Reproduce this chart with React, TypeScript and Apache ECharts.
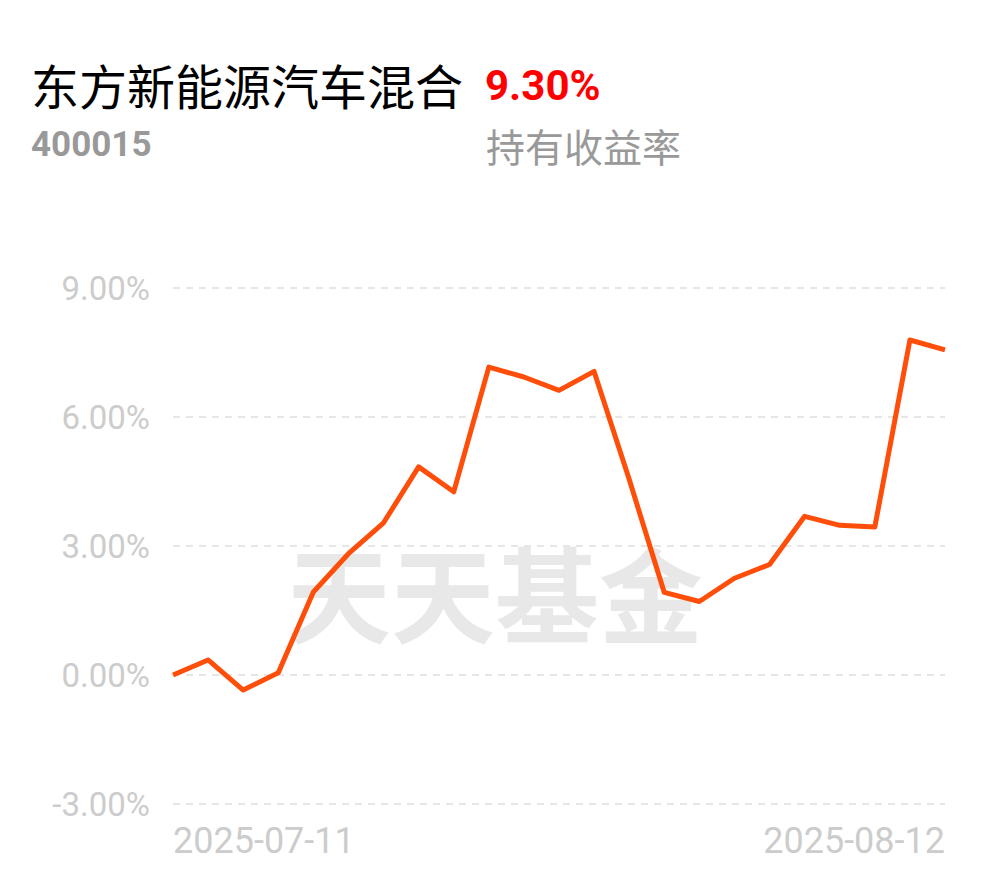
import React, { useEffect, useRef } from "react";
import * as echarts from "echarts";

const fundName = "东方新能源汽车混合";
const fundCode = "400015";
const holdingReturn = "9.30%";
const holdingLabel = "持有收益率";
const watermark = "天天基金";

const dates = [
  "2025-07-11", "2025-07-14", "2025-07-15", "2025-07-16", "2025-07-17", "2025-07-18",
  "2025-07-21", "2025-07-22", "2025-07-23", "2025-07-24", "2025-07-25",
  "2025-07-28", "2025-07-29", "2025-07-30", "2025-07-31", "2025-08-01",
  "2025-08-04", "2025-08-05", "2025-08-06", "2025-08-07", "2025-08-08",
  "2025-08-11", "2025-08-12",
];
const returns = [
  0, 0.35, -0.35, 0.05, 1.93, 2.82, 3.54, 4.84, 4.26, 7.16, 6.93,
  6.62, 7.06, 4.55, 1.92, 1.71, 2.25, 2.57, 3.69, 3.48, 3.44, 7.79, 7.56,
];
const yMin = -3;
const yMax = 9;
const yStep = 3;

export default function App() {
  const ref = useRef<HTMLDivElement>(null);
  useEffect(() => {
    document.body.style.margin = "0";
    if (!ref.current) return;
    const chart = echarts.init(ref.current, undefined, { renderer: "svg" });
    const last = dates.length - 1;
    chart.setOption({
      animation: false,
      backgroundColor: "#ffffff",
      grid: { left: 173, right: 45, top: 288, bottom: 74, containLabel: false },
      graphic: [
        {
          type: "text", x: 31, y: 84, z: 10,
          style: {
            text: fundName, fill: "#000000", fontSize: 48,
            fontFamily: "Noto Sans CJK SC", verticalAlign: "middle", align: "left",
          },
        },
        {
          type: "text", x: 485, y: 85, z: 10,
          style: {
            text: holdingReturn, fill: "#ff0000", fontSize: 42, fontWeight: "bold",
            fontFamily: "Roboto", verticalAlign: "middle", align: "left",
          },
        },
        {
          type: "text", x: 31, y: 144, z: 10,
          style: {
            text: fundCode, fill: "#999999", fontSize: 35, fontWeight: "bold",
            fontFamily: "Roboto", verticalAlign: "middle", align: "left",
          },
        },
        {
          type: "text", x: 486, y: 145, z: 10,
          style: {
            text: holdingLabel, fill: "#999999", fontSize: 39,
            fontFamily: "Noto Sans CJK SC", verticalAlign: "middle", align: "left",
          },
        },
        {
          type: "text", x: 495, y: 590, z: -1,
          style: {
            text: watermark, fill: "#e8e8e8", fontSize: 104, fontWeight: "bold",
            fontFamily: "Noto Sans CJK SC", verticalAlign: "middle", align: "center",
          },
        },
      ],
      xAxis: {
        type: "category",
        data: dates,
        boundaryGap: false,
        axisLine: { show: false },
        axisTick: { show: false },
        splitLine: { show: false },
        axisLabel: {
          interval: (i: number) => i === 0 || i === last,
          showMinLabel: true,
          showMaxLabel: true,
          alignMinLabel: "left",
          alignMaxLabel: "right",
          color: "#cccccc",
          fontSize: 36,
          fontFamily: "Roboto",
          margin: 19,
        },
      },
      yAxis: {
        type: "value",
        min: yMin,
        max: yMax,
        interval: yStep,
        axisLine: { show: false },
        axisTick: { show: false },
        axisLabel: {
          formatter: (v: number) => v.toFixed(2) + "%",
          color: "#cccccc",
          fontSize: 33,
          fontFamily: "Roboto",
          margin: 23,
        },
        splitLine: {
          show: true,
          lineStyle: { color: "#e6e6e6", width: 2, type: [7, 6] },
        },
      },
      series: [
        {
          type: "line",
          data: returns,
          symbol: "none",
          z: 5,
          lineStyle: { color: "#ff4e0a", width: 5, join: "round" },
        },
      ],
    });
    return () => chart.dispose();
  }, []);
  return <div ref={ref} style={{ width: 990, height: 878 }} />;
}
